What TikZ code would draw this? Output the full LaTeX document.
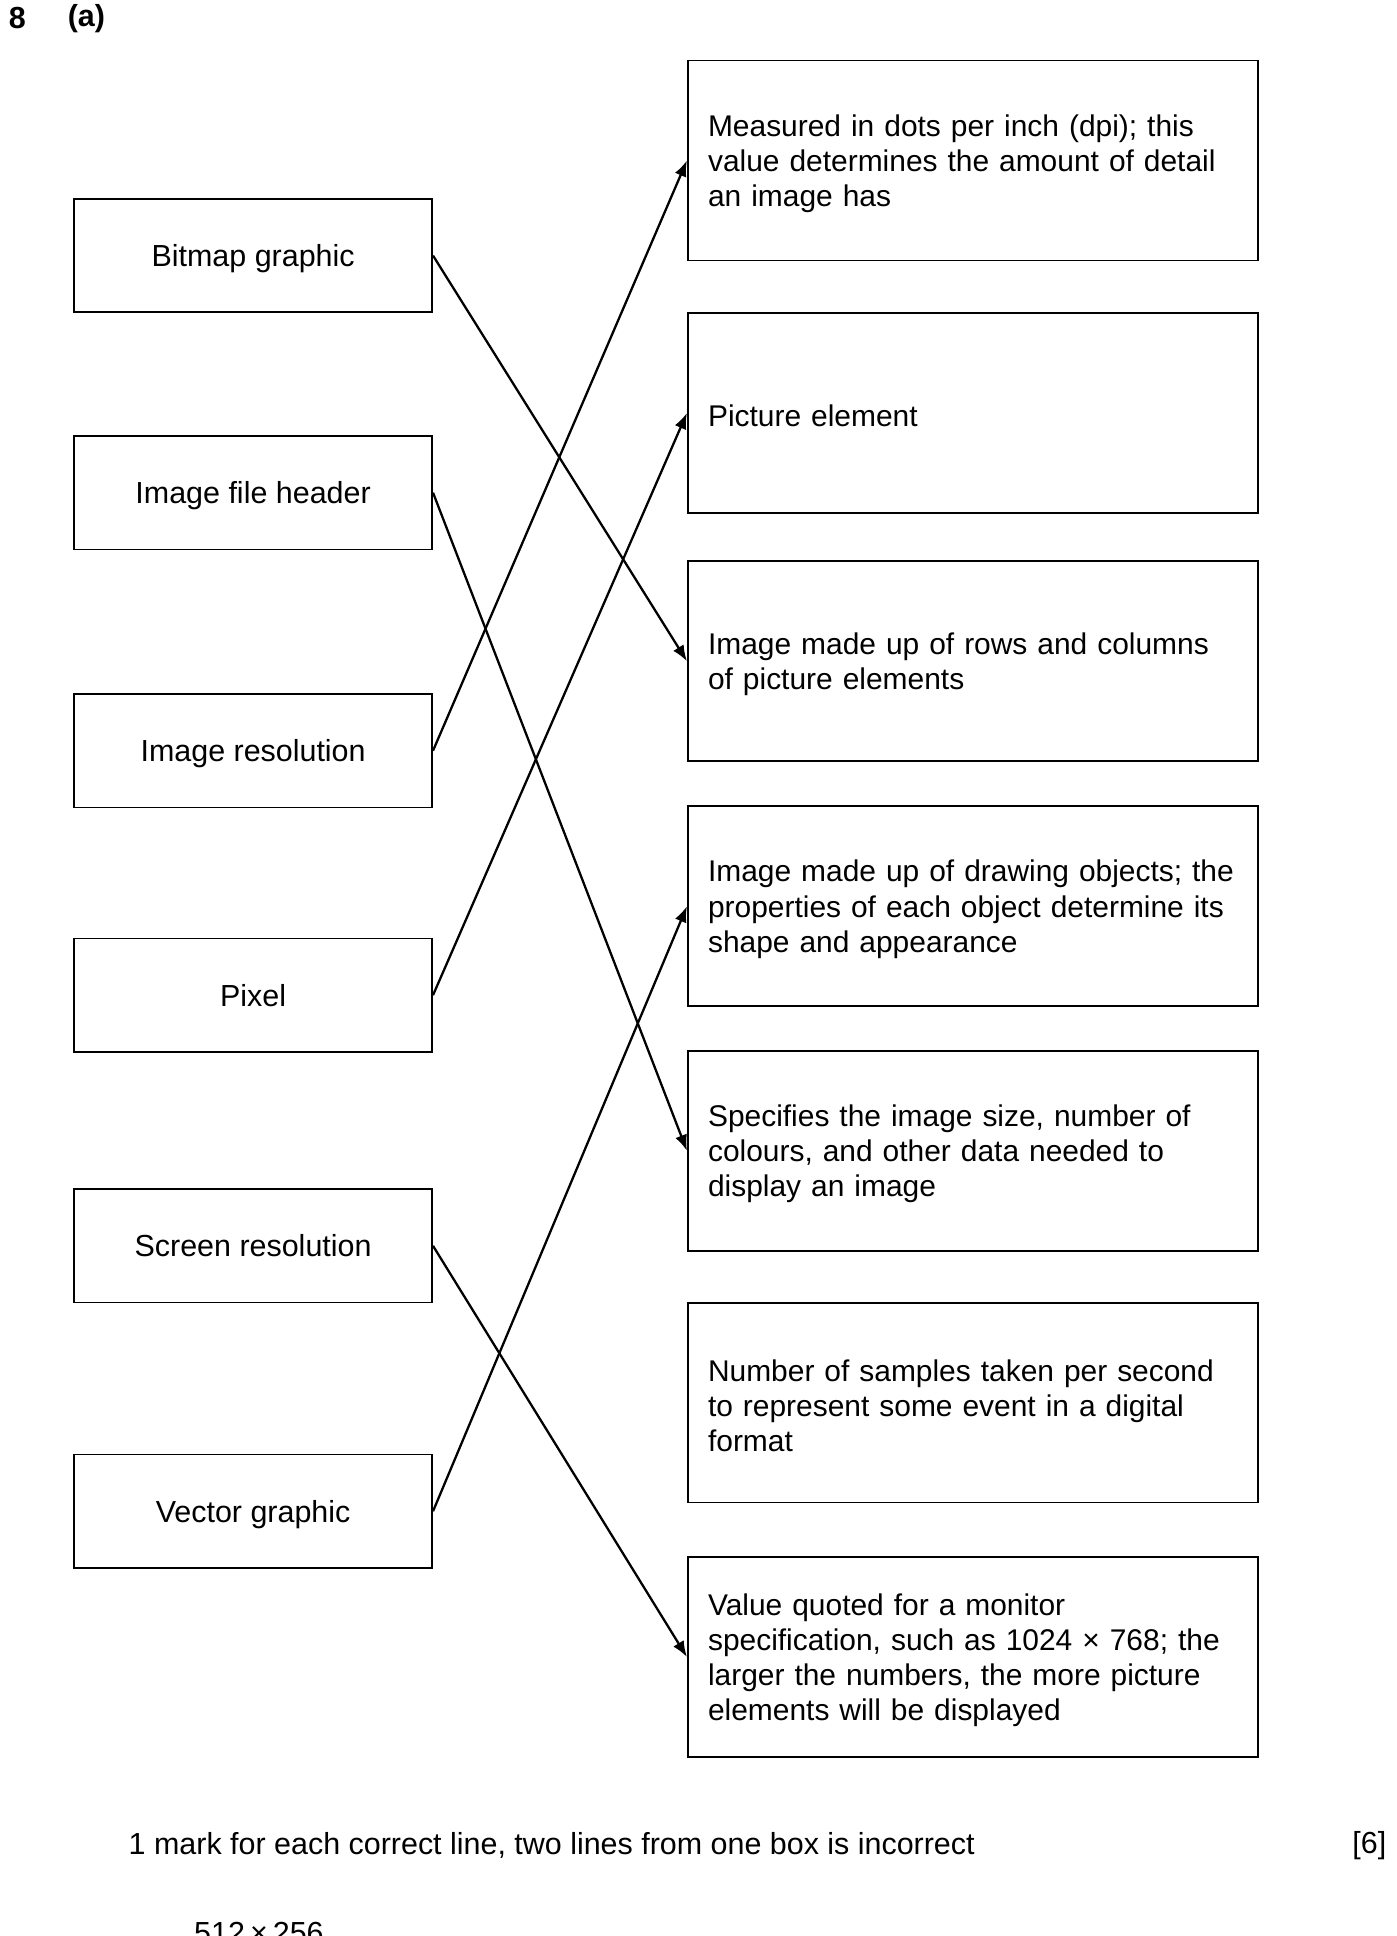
\documentclass[tikz,border=0pt]{standalone}
\usepackage{fontspec}
\setmainfont{Liberation Sans}
\usetikzlibrary{arrows.meta}

\begin{document}
\begin{tikzpicture}[x=0.0171cm, y=-0.0171cm,
    txt/.style={font=\fontsize{12}{13.9}\selectfont},
    term/.style={txt, draw, line width=0.7pt, minimum width=4.96cm, minimum height=1.573cm, inner sep=0pt, text height=0.38cm, text depth=0.08cm},
    desc/.style={font=\fontsize{11.8}{13.9}\selectfont, draw, line width=0.7pt, text width=7.34cm, inner xsep=0.28cm, minimum height=2.77cm, align=left, execute at begin node={\rule{0pt}{0.39cm}}},
    link/.style={line width=0.9pt, -{Latex[length=0.22cm, width=0.17cm]}}]
  \clip (0,0) rectangle (1131,1568);

  \node[txt, font=\fontsize{12}{13.9}\selectfont\bfseries] (qnum) at (14,15) {8};
  \node[txt, font=\fontsize{12}{13.9}\selectfont\bfseries] (qpart) at (70,15) {(a)};

  \node[term] (bitmap) at (205,207) {Bitmap graphic};
  \node[term] (header) at (205,399) {Image file header};
  \node[term] (imgres) at (205,608) {Image resolution};
  \node[term] (pixel) at (205,806) {Pixel};
  \node[term] (scrres) at (205,1009) {Screen resolution};
  \node[term] (vector) at (205,1224) {Vector graphic};

  \node[desc] (dpi) at (788,130) {Measured in dots per inch (dpi); this\\value determines the amount of detail\\an image has};
  \node[desc] (picel) at (788,334.5) {Picture element};
  \node[desc] (rows) at (788,535.5) {Image made up of rows and columns\\of picture elements};
  \node[desc] (objects) at (788,734) {Image made up of drawing objects; the\\properties of each object determine its\\shape and appearance};
  \node[desc] (size) at (788,932) {Specifies the image size, number of\\colours, and other data needed to\\display an image};
  \node[desc] (samples) at (788,1136) {Number of samples taken per second\\to represent some event in a digital\\format};
  \node[desc] (monitor) at (788,1342) {Value quoted for a monitor\\specification, such as 1024 × 768; the\\larger the numbers, the more picture\\elements will be displayed};

  \draw[link] (bitmap.east) -- (rows.west);
  \draw[link] (header.east) -- (size.west);
  \draw[link] (imgres.east) -- (dpi.west);
  \draw[link] (pixel.east) -- (picel.west);
  \draw[link] (scrres.east) -- (monitor.west);
  \draw[link] (vector.east) -- (objects.west);

  \node[txt, anchor=west] (mark) at (97,1495) {1 mark for each correct line, two lines from one box is incorrect};
  \node[txt, anchor=east] (marks) at (1130,1495) {[6]};
  \node[txt, anchor=base west] (nextpart) at (150,1574) {512\,×\,256};
\end{tikzpicture}
\end{document}
